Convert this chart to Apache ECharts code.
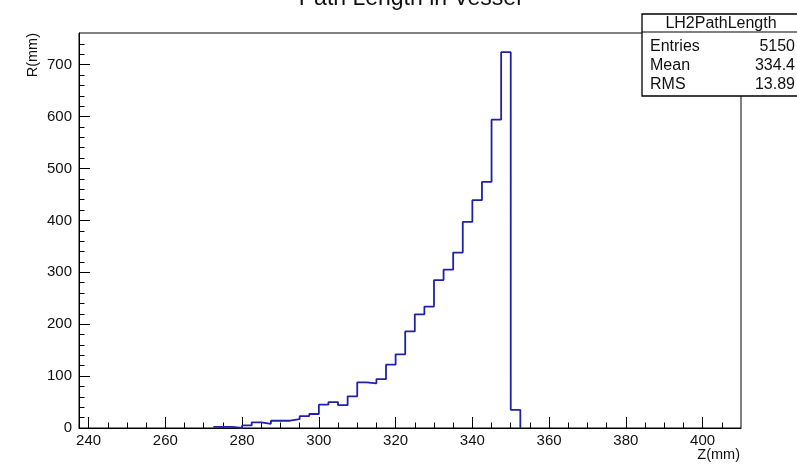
<!DOCTYPE html>
<html>
<head>
<meta charset="utf-8">
<script src="https://cdn.jsdelivr.net/npm/echarts@6/dist/echarts.min.js"></script>
<style>html,body{margin:0;padding:0;background:#fff}#c{width:797px;height:467px}</style>
</head>
<body>
<div id="c"></div>
<script>
// Histogram bin lower edges (mm) and counts
const binEdges = [272.5, 275, 277.5, 280, 282.5, 285, 287.5, 290, 292.5, 295, 297.5,
  300, 302.5, 305, 307.5, 310, 312.5, 315, 317.5, 320, 322.5, 325, 327.5,
  330, 332.5, 335, 337.5, 340, 342.5, 345, 347.5, 350, 352.5];
const counts = [2, 2, 0, 5, 11, 8, 14, 14, 17, 23, 27,
  45, 50, 44, 61, 88, 86, 94, 122, 142, 186, 219, 234,
  285, 305, 338, 397, 439, 474, 594, 724, 35, 0];
const xMajorTicks = [240, 260, 280, 300, 320, 340, 360, 380, 400];
const xMinorTicks = [245, 250, 255, 265, 270, 275, 285, 290, 295, 305, 310, 315, 325, 330, 335,
  345, 350, 355, 365, 370, 375, 385, 390, 395, 405];
const yMajorTicks = [0, 100, 200, 300, 400, 500, 600, 700];
const yMinorTicks = [20, 40, 60, 80, 120, 140, 160, 180, 220, 240, 260, 280, 320, 340, 360, 380,
  420, 440, 460, 480, 520, 540, 560, 580, 620, 640, 660, 680, 720, 740];
const statsName = 'LH2PathLength';
const statsLabels = ['Entries', 'Mean', 'RMS'];
const statsValues = ['5150', '334.4', '13.89'];
const titleText = 'Path Length in Vessel';
const xTitle = 'Z(mm)';
const yTitle = 'R(mm)';

const FONT = 'Liberation Sans, Arial, Helvetica, sans-serif';
const chart = echarts.init(document.getElementById('c'));
const data = binEdges.map((e, i) => [e, counts[i]]);

const xRange = { min: 237.5, max: 410 };
const yRange = { min: 0, max: 761 };

const statsRows = statsLabels.map((l, i) => ([
  { type: 'text', x: 650, y: 47 + i * 19, style: { text: l, fontFamily: FONT, fontSize: 16, fill: '#111', textVerticalAlign: 'middle' } },
  { type: 'text', x: 795, y: 47 + i * 19, style: { text: statsValues[i], fontFamily: FONT, fontSize: 16, fill: '#111', textAlign: 'right', textVerticalAlign: 'middle' } }
])).flat();

chart.setOption({
  animation: false,
  backgroundColor: '#fff',
  grid: { left: 79, right: 56, top: 33, bottom: 39, show: true, borderColor: '#000', borderWidth: 1, backgroundColor: '#fff' },
  xAxis: [
    { type: 'value', min: xRange.min, max: xRange.max, position: 'bottom',
      axisLine: { show: true, lineStyle: { color: '#000', width: 1 } },
      axisTick: { show: true, inside: true, length: 11, customValues: xMajorTicks, lineStyle: { color: '#000' } },
      axisLabel: { show: true, customValues: xMajorTicks, margin: 5, fontFamily: FONT, fontSize: 15, color: '#111' },
      splitLine: { show: false } },
    { type: 'value', min: xRange.min, max: xRange.max, position: 'bottom',
      axisLine: { show: false },
      axisTick: { show: true, inside: true, length: 5.5, customValues: xMinorTicks, lineStyle: { color: '#000' } },
      axisLabel: { show: false }, splitLine: { show: false } }
  ],
  yAxis: [
    { type: 'value', min: yRange.min, max: yRange.max, position: 'left',
      axisLine: { show: true, lineStyle: { color: '#000', width: 1 } },
      axisTick: { show: true, inside: true, length: 11, customValues: yMajorTicks, lineStyle: { color: '#000' } },
      axisLabel: { show: true, customValues: yMajorTicks, margin: 7, fontFamily: FONT, fontSize: 15, color: '#111' },
      splitLine: { show: false } },
    { type: 'value', min: yRange.min, max: yRange.max, position: 'left',
      axisLine: { show: false },
      axisTick: { show: true, inside: true, length: 5.5, customValues: yMinorTicks, lineStyle: { color: '#000' } },
      axisLabel: { show: false }, splitLine: { show: false } }
  ],
  series: [{
    type: 'line', step: 'end', data: data, xAxisIndex: 0, yAxisIndex: 0,
    showSymbol: false, symbol: 'none', z: 3,
    lineStyle: { color: '#2121a6', width: 1.8 }
  }],
  graphic: [
    { type: 'text', x: 410, y: -1, style: { text: titleText, fontFamily: FONT, fontSize: 23, fill: '#111', textAlign: 'center', textVerticalAlign: 'middle' } },
    { type: 'text', x: 740, y: 455, style: { text: xTitle, fontFamily: FONT, fontSize: 14.5, fill: '#111', textAlign: 'right', textVerticalAlign: 'middle' } },
    { type: 'text', x: 33, y: 33, rotation: Math.PI / 2, style: { text: yTitle, fontFamily: FONT, fontSize: 14.5, fill: '#111', textAlign: 'right', textVerticalAlign: 'middle' } },
    { type: 'rect', z: 10, shape: { x: 642, y: 14, width: 160, height: 82 }, style: { fill: '#fff', stroke: '#000', lineWidth: 1.3 } },
    { type: 'line', z: 11, shape: { x1: 642, y1: 32, x2: 797, y2: 32 }, style: { stroke: '#000', lineWidth: 1 } },
    { type: 'text', z: 11, x: 721, y: 24, style: { text: statsName, fontFamily: FONT, fontSize: 16, fill: '#111', textAlign: 'center', textVerticalAlign: 'middle' } },
    ...statsRows.map(o => Object.assign({ z: 11 }, o))
  ]
});
</script>
</body>
</html>
